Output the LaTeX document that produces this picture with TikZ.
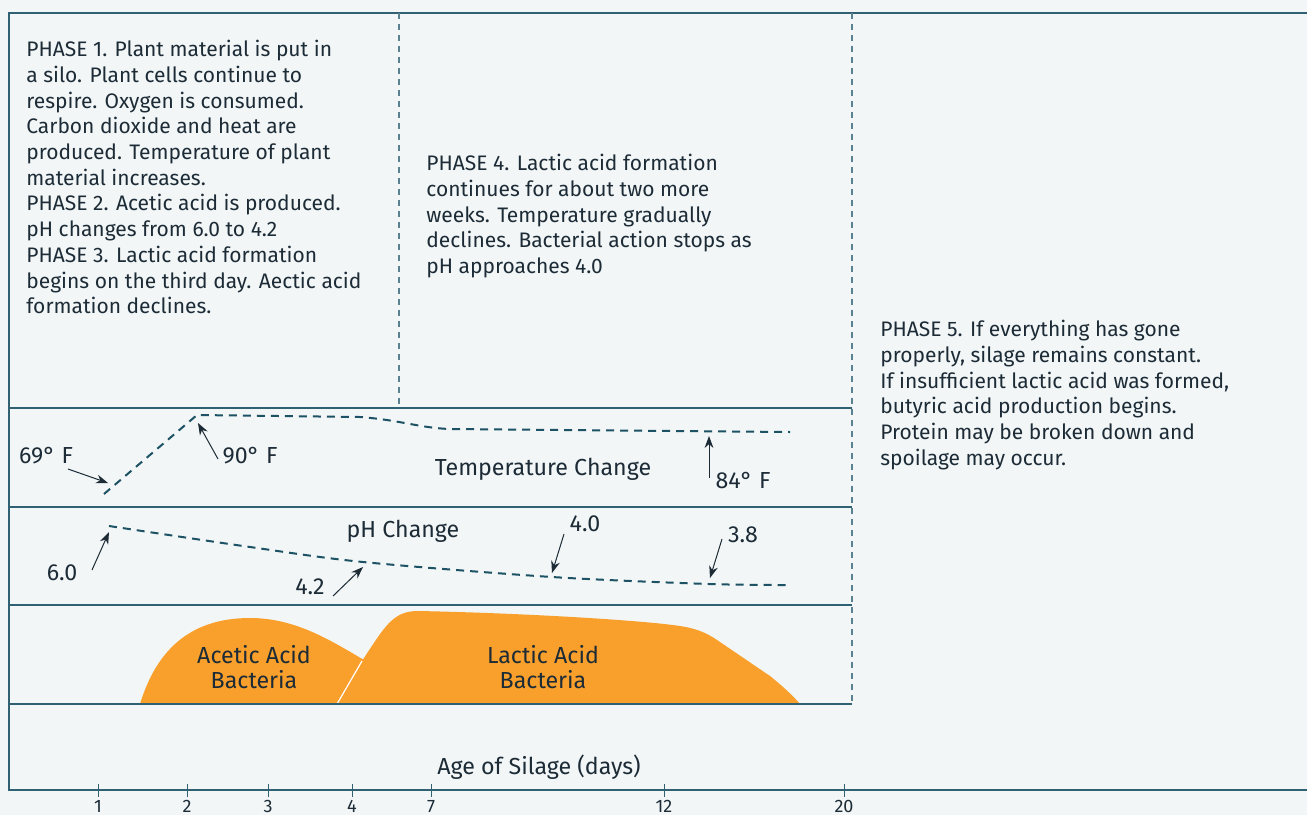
\documentclass[tikz,border=0pt]{standalone}
\usepackage{fontspec}
\setmainfont{Fira Sans}
\usetikzlibrary{arrows.meta}
\definecolor{paper}{HTML}{F2F6F7}
\definecolor{rule}{HTML}{2F6173}
\definecolor{curve}{HTML}{1C5264}
\definecolor{ink}{HTML}{1C2B36}
\definecolor{bact}{HTML}{F9A02C}

\begin{document}
\begin{tikzpicture}[x=0.5pt,y=-0.5pt,>={Stealth[length=6pt,width=4.4pt]},
    frame/.style={draw=rule,line width=0.75pt},
    divider/.style={draw=rule!80,line width=0.6pt,dash pattern=on 3pt off 2.5pt},
    trend/.style={draw=curve,line width=1pt,dash pattern=on 4pt off 3pt},
    ptr/.style={->,draw=ink,line width=0.5pt},
    txt/.style={text=ink,font=\fontsize{10.5}{12.85}\selectfont,align=left,anchor=north west,inner sep=0pt},
    lbl/.style={text=ink,font=\fontsize{11.6}{12.5}\selectfont,align=center,inner sep=0pt},
    daylbl/.style={text=ink,font=\fontsize{9}{9}\selectfont,inner sep=0pt}]
  \fill[paper] (0,0) rectangle (1307,815);
  \useasboundingbox (0,0) rectangle (1307,815);

  % bacteria
  \fill[bact] (140,704) .. controls (158,645) and (195,618) .. (250,618)
    .. controls (295,618) and (330,640) .. (364,660) -- (364,704) -- cycle;
  \fill[bact] (337,704) -- (362,661) .. controls (385,626) and (393,611) .. (418,611)
    .. controls (520,613) and (640,620) .. (680,626)
    .. controls (700,629) and (710,635) .. (720,642) -- (770,676)
    .. controls (785,688) and (795,698) .. (800,704) -- cycle;
  \draw[white,line width=0.6pt] (337,704) -- (362,661);

  % frame
  \draw[frame] (1307,13) -- (9,13) -- (9,790) -- (1307,790);
  \foreach \y in {408,507,605,704}
    \draw[frame] (9,\y) -- (852,\y);
  \draw[divider] (399,13) -- (399,405);
  \draw[divider] (852,13) -- (852,705);

  % days
  \foreach \x/\d in {98/1,187/2,268/3,352/4,431/7,664/12,844/20}{
    \draw[rule,line width=0.5pt] (\x,784) -- (\x,797);
    \node[daylbl] (day\d) at (\x,806.5) {\d};
  }

  % text
  \node[txt] (phase1) at (26,40) {PHASE 1. Plant material is put in\\
    a silo. Plant cells continue to\\
    respire. Oxygen is consumed.\\
    Carbon dioxide and heat are\\
    produced. Temperature of plant\\
    material increases.\\
    PHASE 2. Acetic acid is produced.\\
    pH changes from 6.0 to 4.2\\
    PHASE 3. Lactic acid formation\\
    begins on the third day. Aectic acid\\
    formation declines.};
  \node[txt] (phase4) at (426,154) {PHASE 4. Lactic acid formation\\
    continues for about two more\\
    weeks. Temperature gradually\\
    declines. Bacterial action stops as\\
    pH approaches 4.0};
  \node[txt] (phase5) at (880,320) {PHASE 5. If everything has gone\\
    properly, silage remains constant.\\
    If insufficient lactic acid was formed,\\
    butyric acid production begins.\\
    Protein may be broken down and\\
    spoilage may occur.};

  % temperature
  \draw[trend] (104,494) -- (197,415) -- (360,417)
    .. controls (400,420) and (420,428) .. (450,429) -- (790,432);
  \node[lbl] (tchange) at (543,469) {Temperature Change};
  \node[lbl] (t69) at (46,456) {69° F};
  \node[lbl] (t90) at (250,456) {90° F};
  \node[lbl] (t84) at (743,480) {84° F};
  \coordinate (t69a) at (68,469);  \coordinate (t69b) at (108,483);
  \coordinate (t90a) at (218,459); \coordinate (t90b) at (198,423);
  \coordinate (t84a) at (709,478); \coordinate (t84b) at (709,436);
  \draw[ptr] (t69a) -- (t69b);
  \draw[ptr] (t90a) -- (t90b);
  \draw[ptr] (t84a) -- (t84b);

  % pH
  \draw[trend] plot[smooth] coordinates {(109,526) (250,547) (363,562) (552,577) (709,584) (790,585)};
  \node[lbl] (phchange) at (403,531) {pH Change};
  \node[lbl] (ph60) at (62,573) {6.0};
  \node[lbl] (ph42) at (310,587) {4.2};
  \node[lbl] (ph40) at (585,524) {4.0};
  \node[lbl] (ph38) at (743,535) {3.8};
  \coordinate (ph60a) at (92,570);  \coordinate (ph60b) at (109,532);
  \coordinate (ph42a) at (333,596); \coordinate (ph42b) at (363,567);
  \coordinate (ph40a) at (564,534); \coordinate (ph40b) at (552,573);
  \coordinate (ph38a) at (722,539); \coordinate (ph38b) at (710,578);
  \draw[ptr] (ph60a) -- (ph60b);
  \draw[ptr] (ph42a) -- (ph42b);
  \draw[ptr] (ph40a) -- (ph40b);
  \draw[ptr] (ph38a) -- (ph38b);

  \node[lbl] (acetic) at (254,667) {Acetic Acid\\Bacteria};
  \node[lbl] (lactic) at (543,667) {Lactic Acid\\Bacteria};
  \node[lbl] (age) at (539,767) {Age of Silage (days)};
\end{tikzpicture}
\end{document}
